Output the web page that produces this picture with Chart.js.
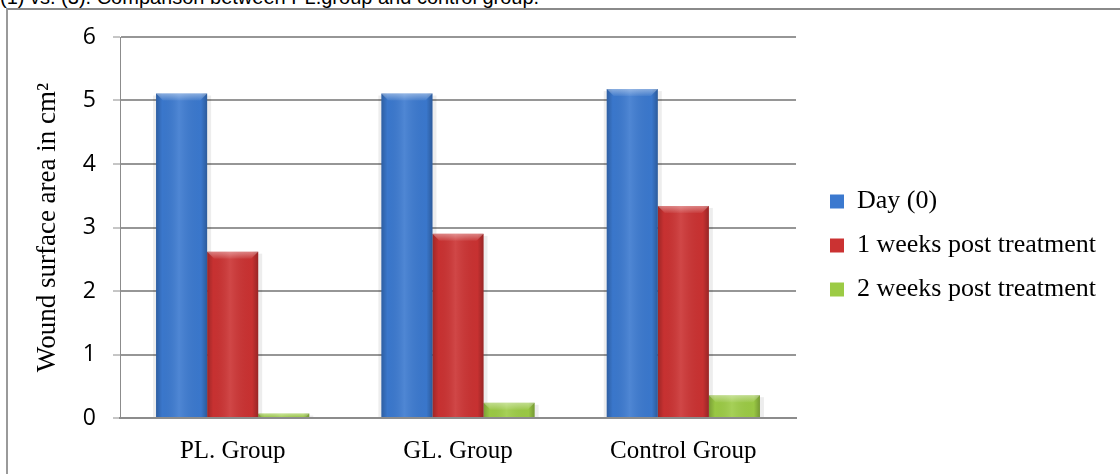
<!DOCTYPE html>
<html>
<head>
<meta charset="utf-8">
<script src="https://cdn.jsdelivr.net/npm/chart.js@4.4.1/dist/chart.umd.min.js"></script>
<style>
  html, body { margin: 0; padding: 0; background: #fff; overflow: hidden; }
  #wrap { position: relative; width: 1120px; height: 474px; }
  #caption { position: absolute; left: 0; top: -13px; font: 20px/20px "Liberation Sans", Arial, sans-serif; color: #000; white-space: nowrap; }
  #frame { position: absolute; left: 6px; top: 8px; right: -4px; bottom: -4px; border-left: 2px solid #9a9a9a; border-top: 2px solid #8a8a8a; }
  canvas { position: absolute; left: 0; top: 0; }
</style>
</head>
<body>
<div id="wrap">
  <div id="caption">(1) vs. (3). Comparison between PL.group and control group.</div>
  <div id="frame"></div>
  <canvas id="chart" width="1120" height="474"></canvas>
</div>
<script>
// Wound surface area (cm²) per group at each time point
const groups = ['PL. Group', 'GL. Group', 'Control Group'];
const seriesNames = ['Day (0)', '1 weeks post treatment', '2 weeks post treatment'];
const day0 = [5.11, 5.11, 5.18];
const week1 = [2.62, 2.90, 3.34];
const week2 = [0.07, 0.24, 0.36];
const yTicks = [0, 1, 2, 3, 4, 5, 6];
const seriesColors = ['#3b79cf', '#cb3232', '#9ccb45'];

// Glossy shading laid over each bar, using the bar geometry computed by Chart.js
const barShading = {
  id: 'barShading',
  beforeDatasetsDraw(chart) {
    const ctx = chart.ctx;
    ctx.save();
    chart.data.datasets.forEach((ds, di) => {
      chart.getDatasetMeta(di).data.forEach(el => {
        const p = el.getProps(['x', 'y', 'base', 'width'], true);
        const l = p.x - p.width / 2;
        ctx.fillStyle = 'rgba(0,0,0,0.07)';
        ctx.fillRect(l - 3, p.y + 2, p.width + 7, p.base - p.y - 2);
      });
    });
    ctx.restore();
  },
  afterDatasetsDraw(chart) {
    const ctx = chart.ctx;
    ctx.save();
    chart.data.datasets.forEach((ds, di) => {
      chart.getDatasetMeta(di).data.forEach(el => {
        const p = el.getProps(['x', 'y', 'base', 'width'], true);
        const l = p.x - p.width / 2, r = p.x + p.width / 2;
        const h = p.base - p.y;
        const g = ctx.createLinearGradient(l, 0, r, 0);
        g.addColorStop(0, 'rgba(0,0,0,0.22)');
        g.addColorStop(0.12, 'rgba(0,0,0,0.02)');
        g.addColorStop(0.45, 'rgba(255,255,255,0.10)');
        g.addColorStop(0.88, 'rgba(0,0,0,0.02)');
        g.addColorStop(1, 'rgba(0,0,0,0.25)');
        ctx.fillStyle = g;
        ctx.fillRect(l, p.y, p.width, h);
        const bh = Math.min(7, h);
        const v = ctx.createLinearGradient(0, p.y, 0, p.y + bh);
        v.addColorStop(0, 'rgba(255,255,255,0.40)');
        v.addColorStop(1, 'rgba(255,255,255,0.05)');
        ctx.fillStyle = v;
        ctx.beginPath();
        ctx.moveTo(l, p.y);
        ctx.lineTo(r, p.y);
        ctx.lineTo(r - bh, p.y + bh);
        ctx.lineTo(l + bh, p.y + bh);
        ctx.closePath();
        ctx.fill();
      });
    });
    ctx.restore();
  }
};

// Places the legend block beside the plot
const legendOffset = {
  id: 'legendOffset',
  afterLayout(chart, args, opts) {
    const lg = chart.legend;
    if (!lg) return;
    lg.left += opts.dx; lg.right += opts.dx;
    lg.top += opts.dy; lg.bottom += opts.dy;
  }
};

new Chart(document.getElementById('chart'), {
  type: 'bar',
  data: {
    labels: groups,
    datasets: [day0, week1, week2].map((values, i) => ({
      label: seriesNames[i],
      data: values,
      backgroundColor: seriesColors[i],
      borderWidth: 0,
      categoryPercentage: 0.68,
      barPercentage: 1.0
    }))
  },
  plugins: [barShading, legendOffset],
  options: {
    responsive: false,
    animation: false,
    layout: { padding: { left: 22, top: 37, right: 30, bottom: 0 } },
    scales: {
      x: {
        grid: { display: false, drawTicks: false },
        border: { color: '#8c8c8c', width: 2 },
        ticks: { color: '#000', padding: 18, font: { family: 'Liberation Serif', size: 25 } },
        afterFit(s) { s.height = 56; }
      },
      y: {
        min: 0,
        max: 6,
        afterBuildTicks(s) { s.ticks = yTicks.map(v => ({ value: v })); },
        grid: { color: '#969696', lineWidth: 2, tickLength: 7, tickColor: '#8c8c8c', tickWidth: 1 },
        border: { color: '#8c8c8c', width: 1 },
        ticks: { color: '#000', padding: 17, font: { family: 'Open Sans', size: 23 } },
        title: {
          display: true,
          text: 'Wound surface area in cm²',
          color: '#000',
          font: { family: 'Liberation Serif', size: 27 },
          padding: { top: 10, bottom: 0 }
        },
        afterFit(s) { s.width = 98; }
      }
    },
    plugins: {
      legend: {
        position: 'right',
        align: 'center',
        maxWidth: 400,
        labels: {
          boxWidth: 14,
          boxHeight: 14,
          padding: 18,
          color: '#000',
          font: { family: 'Liberation Serif', size: 26 }
        }
      },
      legendOffset: { dx: 16, dy: -10 },
      tooltip: { enabled: false }
    }
  }
});
</script>
</body>
</html>
